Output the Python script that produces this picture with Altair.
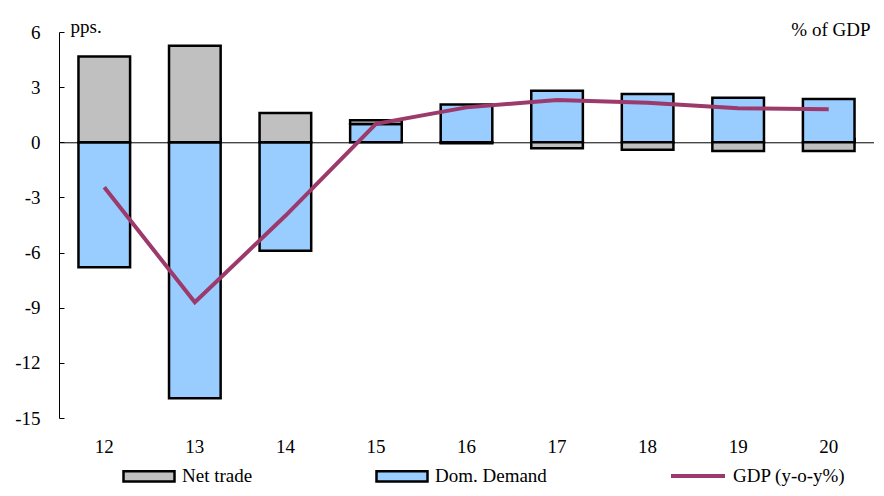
import altair as alt
import pandas as pd

years = ["12", "13", "14", "15", "16", "17", "18", "19", "20"]
net_trade = [4.67, 5.25, 1.6, 0.2, -0.05, -0.33, -0.4, -0.48, -0.48]
dom_demand = [-6.8, -13.93, -5.9, 1.0, 2.05, 2.8, 2.63, 2.42, 2.35]
gdp = [-2.45, -8.7, -4.0, 1.0, 1.9, 2.3, 2.15, 1.85, 1.8]
bar_series = ["Net trade", "Dom. Demand"]
bar_colors = ["#C0C0C0", "#99CCFF"]
gdp_name = "GDP (y-o-y%)"
gdp_color = "#9B3A6B"
y_ticks = [-15, -12, -9, -6, -3, 0, 3, 6]

rows = []
for i, yr in enumerate(years):
    rows.append({"year": yr, "series": "Dom. Demand", "value": dom_demand[i], "ord": 0})
    rows.append({"year": yr, "series": "Net trade", "value": net_trade[i], "ord": 1})
bars_df = pd.DataFrame(rows)
line_df = pd.DataFrame({"year": years, "gdp": gdp, "series": [gdp_name] * len(years)})

W, H = 815, 386
FONT = "Liberation Serif"
FS = 19
zero_y = H * 6 / 21

xscale = alt.Scale(domain=years, paddingInner=0.43)
yscale = alt.Scale(domain=[-15, 6], nice=False, zero=False)

bars = alt.Chart(bars_df).mark_bar(stroke="black", strokeWidth=2.5).encode(
    x=alt.X("year:N", scale=xscale, sort=years,
            axis=alt.Axis(orient="bottom", title=None, domain=False, ticks=False,
                          labelAngle=0, labelPadding=19, labelFontSize=FS,
                          labelFont=FONT, labelColor="black", grid=False)),
    y=alt.Y("value:Q", stack="zero", scale=yscale,
            axis=alt.Axis(orient="left", values=y_ticks, grid=False, ticks=False,
                          domain=True, domainColor="black", labelPadding=19,
                          labelFont=FONT, labelFontSize=FS, labelColor="black",
                          labelExpr="'' + datum.value",
                          title="pps.", titleAngle=0, titleAlign="left",
                          titleBaseline="alphabetic", titleX=11, titleY=0,
                          titleFont=FONT, titleFontSize=FS, titleFontWeight="normal",
                          titleColor="black")),
    fill=alt.Fill("series:N", scale=alt.Scale(domain=bar_series, range=bar_colors),
                  legend=alt.Legend(orient="none", legendX=63, legendY=417,
                                    direction="horizontal", columns=2, columnPadding=118,
                                    title=None,
                                    symbolType="M-1,-0.2H1V0.2H-1Z", symbolSize=2601,
                                    symbolStrokeColor="black", symbolStrokeWidth=2.5,
                                    symbolOpacity=1,
                                    labelFont=FONT, labelFontSize=FS, labelColor="black",
                                    labelOffset=6)),
    order=alt.Order("ord:Q"),
)

line = alt.Chart(line_df).mark_line(color=gdp_color, strokeWidth=4).encode(
    x=alt.X("year:N", scale=xscale, sort=years,
            axis=alt.Axis(orient="top", labels=False, domain=True,
                          domainColor="black", ticks=True, tickBand="extent",
                          tickSize=5, tickColor="black", offset=-zero_y, grid=False,
                          title="% of GDP", titleX=W - 4, titleY=4 - zero_y,
                          titleAlign="right", titleBaseline="alphabetic",
                          titleFont=FONT, titleFontSize=FS, titleFontWeight="normal",
                          titleColor="black")),
    y=alt.Y("gdp:Q", scale=yscale,
            axis=alt.Axis(orient="right", values=y_ticks, labels=False, title=None,
                          grid=False, domain=False, ticks=True, tickSize=5,
                          tickColor="black", offset=-W)),
    stroke=alt.Stroke("series:N", scale=alt.Scale(domain=[gdp_name], range=[gdp_color]),
                      legend=alt.Legend(orient="none", legendX=610, legendY=415,
                                        title=None, symbolType="stroke", symbolSize=2916,
                                        symbolStrokeWidth=4, symbolStrokeColor=gdp_color,
                                        labelFont=FONT, labelFontSize=FS,
                                        labelColor="black", labelOffset=6)),
)

chart = alt.layer(bars, line).properties(
    width=W, height=H,
    autosize=alt.AutoSizeParams(type="none"),
    padding={"left": 51, "top": 24, "right": 0, "bottom": 70},
).configure_view(stroke=None)

chart.save("out.html", embed_options={"renderer": "svg", "actions": False})
